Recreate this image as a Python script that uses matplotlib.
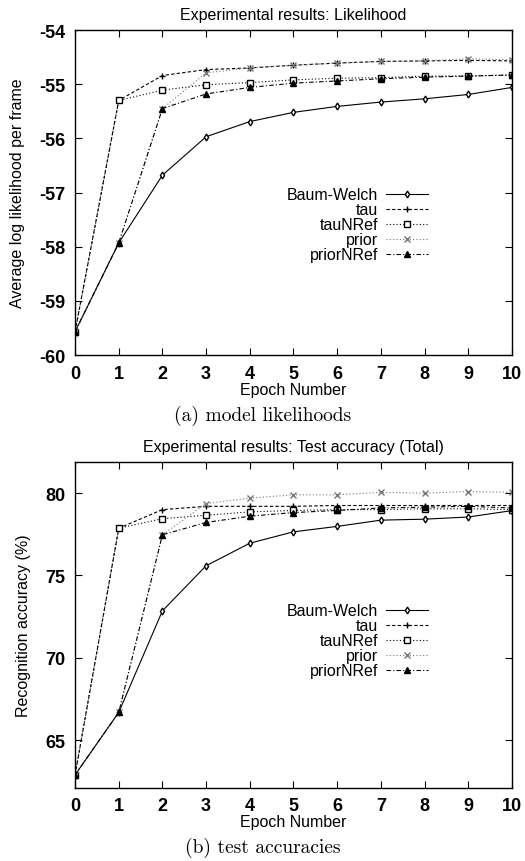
import matplotlib
matplotlib.use("Agg")
import matplotlib.pyplot as plt

plt.rcParams['font.family'] = ['Liberation Sans', 'DejaVu Sans']
plt.rcParams['axes.unicode_minus'] = False

epochs = list(range(11))
series_names = ["Baum-Welch", "tau", "tauNRef", "prior", "priorNRef"]

# (a) model likelihoods
lik_bw = [-59.57, -57.93, -56.68, -55.97, -55.69, -55.52, -55.41, -55.33, -55.27, -55.19, -55.06]
lik_tau = [-59.57, -55.30, -54.84, -54.73, -54.70, -54.65, -54.61, -54.58, -54.57, -54.56, -54.57]
lik_taunref = [-59.57, -55.30, -55.11, -55.01, -54.97, -54.92, -54.89, -54.88, -54.85, -54.85, -54.83]
lik_prior = [-59.57, -57.93, -55.45, -54.79, -54.70, -54.65, -54.61, -54.58, -54.57, -54.53, -54.55]
lik_priornref = [-59.57, -57.93, -55.45, -55.18, -55.06, -54.98, -54.94, -54.90, -54.87, -54.85, -54.83]

# (b) test accuracies
acc_bw = [62.88, 66.68, 72.85, 75.59, 76.96, 77.65, 77.98, 78.36, 78.42, 78.55, 78.94]
acc_tau = [62.88, 77.87, 79.00, 79.20, 79.20, 79.20, 79.25, 79.25, 79.25, 79.25, 79.25]
acc_taunref = [62.88, 77.87, 78.45, 78.66, 78.86, 78.95, 79.00, 79.00, 79.05, 79.05, 79.00]
acc_prior = [62.88, 66.68, 77.47, 79.37, 79.70, 79.90, 79.90, 80.05, 80.00, 80.10, 80.05]
acc_priornref = [62.88, 66.68, 77.47, 78.22, 78.60, 78.82, 78.95, 79.10, 79.15, 79.20, 79.10]

styles = [
    dict(ls='-', marker='d', ms=3.5, mfc='white', color='black'),
    dict(ls=(0, (3, 2)), marker='+', ms=5, color='black'),
    dict(ls=(0, (1, 2)), marker='s', ms=4, mfc='white', color='black'),
    dict(ls=(0, (1, 2)), marker='x', ms=4, color='#777777'),
    dict(ls=(0, (4, 2, 1, 2)), marker='^', ms=4, color='black'),
]


def draw(ax, data, title, ylabel, ylim, yticks, leg_y):
    for name, y, st in zip(series_names, data, styles):
        ax.plot(epochs, y, lw=0.8, label=name, **st)
    ax.set_xlim(0, 10)
    ax.set_ylim(*ylim)
    ax.set_xticks(epochs)
    ax.set_yticks(yticks)
    ax.tick_params(direction='in', top=True, right=True, length=5, width=0.8,
                   labelsize=13, pad=7)
    for lab in ax.get_xticklabels() + ax.get_yticklabels():
        lab.set_fontweight('bold')
    ax.set_title(title, fontsize=11.5, pad=8)
    ax.set_xlabel("Epoch Number", fontsize=11.5, labelpad=0)
    ax.set_ylabel(ylabel, fontsize=11.5, labelpad=10)
    for s in ax.spines.values():
        s.set_linewidth(1.0)
    ax.legend(loc='upper right', bbox_to_anchor=(0.84, leg_y), frameon=False,
              markerfirst=False, fontsize=11.5, labelspacing=0.0,
              handlelength=2.6, handletextpad=0.5, numpoints=1)


fig = plt.figure(figsize=(5.25, 8.62), dpi=100)
ax1 = fig.add_axes([0.143, 0.587, 0.832, 0.377])
ax2 = fig.add_axes([0.143, 0.085, 0.832, 0.378])

draw(ax1, [lik_bw, lik_tau, lik_taunref, lik_prior, lik_priornref],
     "Experimental results: Likelihood", "Average log likelihood per frame",
     (-60, -54), [-60, -59, -58, -57, -56, -55, -54], 0.56)
draw(ax2, [acc_bw, acc_tau, acc_taunref, acc_prior, acc_priornref],
     "Experimental results: Test accuracy (Total)", "Recognition accuracy (%)",
     (62.1, 81.9), [65, 70, 75, 80], 0.61)

fig.text(0.5, 0.518, "(a) model likelihoods", family=['cmr10', 'DejaVu Serif'],
         fontsize=14, ha='center', va='center')
fig.text(0.5, 0.016, "(b) test accuracies", family=['cmr10', 'DejaVu Serif'],
         fontsize=14, ha='center', va='center')

fig.savefig("out.png", dpi=100)
